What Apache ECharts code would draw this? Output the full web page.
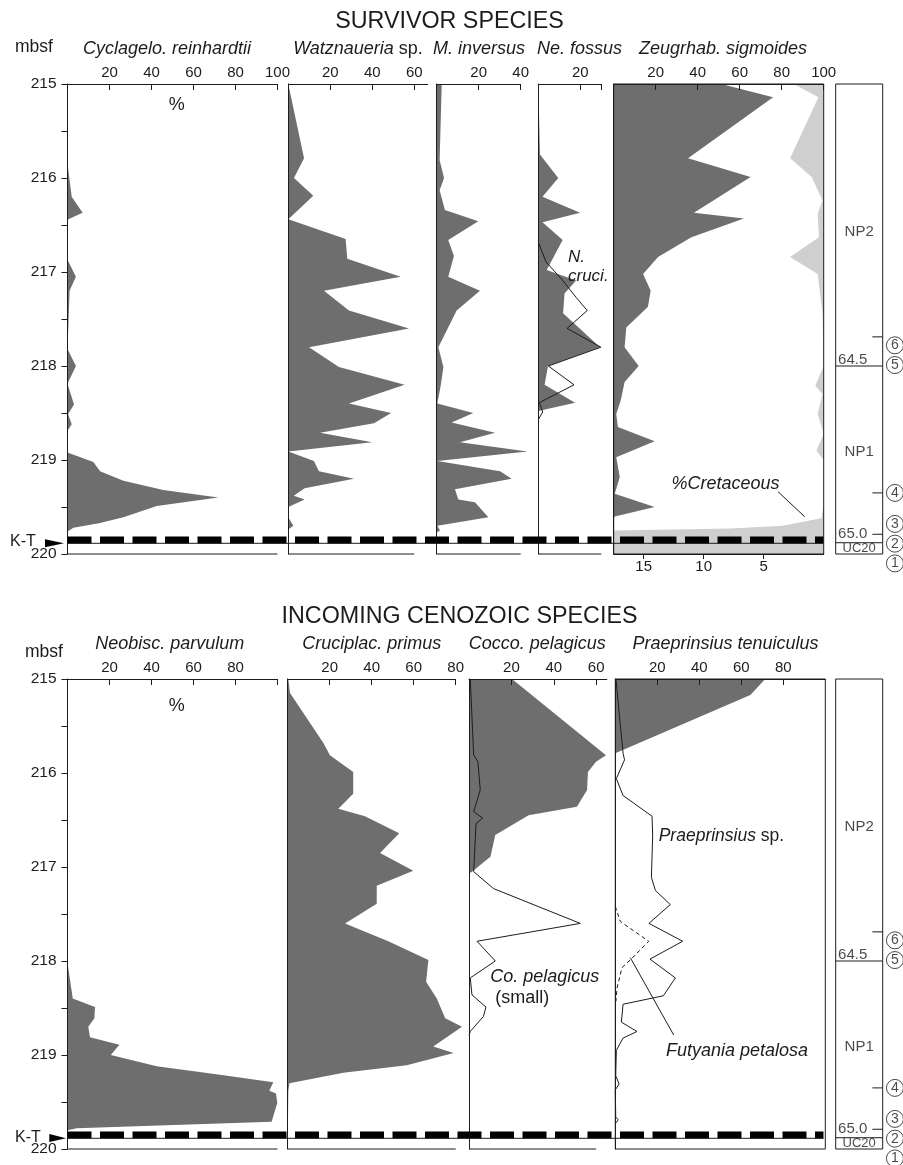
<!DOCTYPE html>
<html><head><meta charset="utf-8">
<script src="https://cdn.jsdelivr.net/npm/echarts@6/dist/echarts.min.js"></script>
<style>html,body{margin:0;padding:0;background:#fff}#c{width:903px;height:1165px}</style>
</head><body><div id="c"></div>
<script>
// ================= DATA =================
// Depth axis (mbsf)
const depthLabels = [215, 216, 217, 218, 219, 220];
// ---- SURVIVOR SPECIES ----
const cycDepth = [215.0, 215.85, 216.2, 216.37, 216.44, 216.47, 216.87, 217.05, 217.2, 217.52, 217.82, 218.0, 218.19, 218.41, 218.51, 218.62, 218.69, 218.92, 219.02, 219.12, 219.22, 219.32, 219.40, 219.49, 219.61, 219.67, 219.72, 219.76, 220.0];
const cycVal   = [0, 0, 2, 7.2, 0.4, 0, 0, 4, 1, 0.5, 0, 4, 0, 3.1, 0.3, 2, 0, 0, 12.3, 15.5, 26.6, 45.6, 71.8, 42.5, 26.6, 15.5, 2.8, 0, 0];
const watDepth = [215.0, 215.79, 216.0, 216.19, 216.44, 216.65, 216.86, 217.05, 217.2, 217.41, 217.6, 217.8, 218.01, 218.2, 218.4, 218.5, 218.61, 218.71, 218.81, 218.91, 219.01, 219.12, 219.2, 219.3, 219.38, 219.42, 219.5, 219.61, 219.7, 219.74, 220.0];
const watVal   = [0, 7.5, 2.7, 11.9, 0, 27.3, 28.1, 53.5, 17, 28.9, 57.5, 9.9, 24.1, 55.4, 28.9, 49, 40.8, 15.1, 40, 0, 12.2, 14.6, 31.3, 7.8, 2.6, 7.8, 0, 0, 2.4, 0, 0];
const minvDepth = [215.0, 215.81, 216.0, 216.13, 216.34, 216.46, 216.66, 216.83, 217.05, 217.2, 217.41, 217.8, 218.01, 218.21, 218.4, 218.5, 218.6, 218.71, 218.81, 218.91, 219.01, 219.12, 219.2, 219.31, 219.42, 219.45, 219.61, 219.7, 219.75, 219.77, 220];
const minvVal   = [2.4, 1.4, 3.5, 1.4, 3.9, 19.8, 5.5, 8.2, 5.5, 20.6, 9.5, 0.8, 3.2, 1.9, 0.3, 17.4, 7.1, 27.8, 11.1, 43.2, 0.3, 30.2, 35.7, 8.7, 10.3, 18.2, 24.6, 0.3, 1.6, 0, 0];
const nefDepth = [215.0, 215.75, 216.0, 216.2, 216.37, 216.47, 216.66, 216.98, 217.09, 217.23, 217.44, 217.8, 218.0, 218.2, 218.39, 218.48, 220];
const nefVal   = [0, 0.8, 9.5, 2, 19.9, 2, 11.6, 4, 18, 12.5, 11.8, 29.4, 4.6, 3, 17.5, 0, 0];
const cruciDepth = [216.68, 216.89, 217.09, 217.27, 217.41, 217.6, 217.8, 218.0, 218.2, 218.39, 218.49, 218.57];
const cruciVal   = [0, 3.6, 11.6, 18, 23.3, 13.7, 29.8, 4.8, 17, 0.5, 2.1, 0];
const zeugDepth = [215.0, 215.14, 215.79, 215.99, 216.37, 216.43, 216.63, 216.84, 217.02, 217.2, 217.37, 217.59, 217.8, 218.0, 218.17, 218.37, 218.51, 218.65, 218.8, 218.97, 219.18, 219.36, 219.5, 219.6, 219.62, 220];
const zeugVal   = [51.2, 75.9, 35.4, 65.2, 38.2, 62, 37, 21.1, 14, 17.6, 16.3, 6, 5.2, 11.9, 5.2, 3.3, 1.2, 2, 19.5, 1.2, 2.9, 0.5, 19.5, 0.5, 0, 0];
// %Cretaceous (lower scale, 0 at right)
const cretDepth = [215.0, 215.14, 215.79, 215.99, 216.24, 216.38, 216.63, 216.84, 217.02, 217.45, 218.0, 218.21, 218.3, 218.51, 218.72, 218.9, 219.0, 219.47, 219.62, 219.70, 219.73, 219.75, 220];
const cretVal   = [2.5, 0.44, 2.8, 1.0, 0.1, 0.5, 0.4, 2.8, 0.5, 0.1, 0, 0.7, 0.1, 0.5, 0, 0.6, 0, 0, 0.2, 3.4, 7.7, 17.5, 17.5];
// ---- INCOMING CENOZOIC SPECIES ----
const neoDepth = [215, 218.02, 218.40, 218.49, 218.61, 218.70, 218.81, 218.89, 219.0, 219.12, 219.21, 219.29, 219.38, 219.41, 219.51, 219.71, 219.78, 219.80, 220];
const neoVal   = [0, 0, 2.5, 13.1, 12.8, 9.9, 10.7, 24.7, 20.6, 42.5, 72.6, 98, 96.1, 99.3, 99.9, 97.2, 4.4, 0, 0];
const crpDepth = [215.0, 215.15, 215.68, 215.81, 215.99, 216.22, 216.38, 216.46, 216.64, 216.85, 217.04, 217.2, 217.39, 217.6, 217.79, 217.99, 218.22, 218.40, 218.61, 218.70, 218.91, 218.98, 219.11, 219.19, 219.30, 219.38, 220];
const crpVal   = [0.3, 1.1, 17, 20.1, 31.2, 31.2, 24.1, 36.8, 53.1, 44, 59.8, 42.4, 42.4, 27.3, 47.9, 67, 65.9, 71, 75, 83, 69.3, 79, 56.7, 26.5, 0.8, 0.3, 0];
const cocDepth = [215.0, 215.81, 215.88, 215.99, 216.18, 216.36, 216.45, 216.66, 216.89, 217.05, 217.07, 220];
const cocVal   = [20.3, 64.6, 59.9, 56.1, 55.7, 50.9, 28.1, 12.4, 10.1, 1.4, 0, 0];
const cpsDepth = [215.0, 215.81, 215.88, 216.18, 216.41, 216.48, 216.54, 217.05, 217.23, 217.6, 217.79, 218.0, 218.18, 218.36, 218.49, 218.59, 218.75, 218.79];
const cpsVal   = [0.6, 2.2, 4.2, 5.3, 2.2, 6.4, 3.3, 2.2, 11.6, 52.5, 3.8, 12.4, 0.6, 1.4, 8.0, 6.8, 0.6, 0];
const ptenDepth = [215.0, 215.17, 215.79];
const ptenVal   = [71.4, 64.3, 0];
const prspDepth = [215.0, 215.79, 215.86, 216.06, 216.24, 216.46, 216.66, 217.11, 217.25, 217.4, 217.6, 217.79, 217.98, 218.18, 218.37, 218.46, 218.65, 218.75, 218.82, 218.95, 219.22, 219.31, 219.37, 219.66, 219.69, 219.73];
const prspVal   = [0.3, 3.7, 4.4, 0.5, 3.7, 17.5, 17.8, 17.2, 19.1, 26.2, 16, 32.1, 16.5, 28.6, 22.9, 3.7, 2.9, 10.3, 3.7, 0.5, 0.2, 1.8, 0, 0.2, 1.4, 0];
const futDepth = [217.42, 217.58, 217.79, 217.97, 218.07, 218.29, 218.43];
const futVal   = [0, 2.4, 15.9, 8, 3.2, 0.8, 0.3];
// ---- Zonation / events ----
const zoneBounds = [218.0, 219.88];
const zoneNames = ['NP2', 'NP1', 'UC20'];
const zoneNameDepth = [216.57, 218.91, 219.94];
const ageLabels = ['64.5', '65.0'];
const ageDepth = [217.93, 219.79];
const eventTickDepth = [217.69, 219.35, 219.79];
const eventNums = ['6', '5', '4', '3', '2', '1'];
const eventDepth = [217.78, 217.99, 219.35, 219.68, 219.89, 220.10];
const ktDepth = 219.85, ktBaseDepth = 219.886;

// ================= STYLE / LAYOUT =================
const FONT = '"Liberation Sans", Arial, Helvetica, sans-serif';
const INK = '#1c1c1c', DARK = '#6e6e6e', LIGHT = '#cfcfcf';
const H = 470, TOP1 = 84, TOP2 = 679;
const panels = [
  {top: TOP1, left: 67.5, width: 210, max: 100, ticks: [20,40,60,80,100], labels: [20,40,60,80,100], base: 100, yLabels: true},
  {top: TOP1, left: 288.3, width: 139.4, max: 66.4, ticks: [20,40,60], labels: [20,40,60], base: 60},
  {top: TOP1, left: 436.7, width: 84, max: 40, ticks: [20,40], labels: [20,40], base: 40},
  {top: TOP1, left: 538.3, width: 63, max: 30, ticks: [20,30], labels: [20], base: 30},
  {top: TOP1, left: 613.7, width: 210, max: 100, ticks: [20,40,60,80,100], labels: [20,40,60,80,100], box: true, cret: true},
  {top: TOP2, left: 67.5, width: 210, max: 100, ticks: [20,40,60,80,100], labels: [20,40,60,80], base: 100, yLabels: true},
  {top: TOP2, left: 287.7, width: 168, max: 80, ticks: [20,40,60,80], labels: [20,40,60,80], base: 80},
  {top: TOP2, left: 469, width: 137.8, max: 65, ticks: [20,40,60], labels: [20,40,60], base: 60},
  {top: TOP2, left: 615.3, width: 210, max: 100, ticks: [20,40,60,80], labels: [20,40,60,80], box: true}
];
const areas = [
  {p: 0, d: cycDepth, v: cycVal, c: DARK},
  {p: 1, d: watDepth, v: watVal, c: DARK},
  {p: 2, d: minvDepth, v: minvVal, c: DARK},
  {p: 3, d: nefDepth, v: nefVal, c: DARK},
  {p: 4, d: cretDepth, v: cretVal, c: LIGHT, cret: true},
  {p: 4, d: zeugDepth, v: zeugVal, c: DARK},
  {p: 5, d: neoDepth, v: neoVal, c: DARK},
  {p: 6, d: crpDepth, v: crpVal, c: DARK},
  {p: 7, d: cocDepth, v: cocVal, c: DARK},
  {p: 8, d: ptenDepth, v: ptenVal, c: DARK}
];
const curves = [
  {p: 3, d: cruciDepth, v: cruciVal},
  {p: 7, d: cpsDepth, v: cpsVal},
  {p: 8, d: prspDepth, v: prspVal},
  {p: 8, d: futDepth, v: futVal, dash: true}
];

// ================= BUILD =================
const grids = [], xAxes = [], yAxes = [], series = [];
const lineStyle = {color: INK, width: 1};
function hiddenAxes(gi, xmax) {
  const xi = xAxes.length;
  xAxes.push({gridIndex: gi, type: 'value', min: 0, max: xmax, show: false});
  const yi = yAxes.length;
  yAxes.push({gridIndex: gi, type: 'value', min: 215, max: 220, inverse: true, show: false});
  return {xi, yi};
}
const pax = panels.map(p => {
  const gi = grids.length;
  grids.push({left: p.left, top: p.top, width: p.width, height: H, show: !!p.box,
    borderColor: INK, borderWidth: 1, backgroundColor: 'transparent', z: p.box ? 10 : 0});
  const xi = xAxes.length;
  xAxes.push({gridIndex: gi, type: 'value', position: 'top', min: 0, max: p.max, z: 5,
    axisLine: {show: true, onZero: false, lineStyle},
    axisTick: {show: true, inside: true, length: 6, customValues: p.ticks, lineStyle},
    axisLabel: {show: true, customValues: p.labels, margin: 4, fontSize: 15, fontFamily: FONT, color: INK},
    splitLine: {show: false}});
  let cx = null;
  if (p.cret) {
    cx = xAxes.length;
    xAxes.push({gridIndex: gi, type: 'value', position: 'bottom', min: 0, max: 17.5, inverse: true, z: 5,
      axisLine: {show: true, onZero: false, lineStyle},
      axisTick: {show: true, inside: false, length: 5, customValues: [5,10,15], lineStyle},
      axisLabel: {show: true, customValues: [5,10,15], margin: 5, fontSize: 15, fontFamily: FONT, color: INK},
      splitLine: {show: false}});
  }
  const yi = yAxes.length;
  yAxes.push({gridIndex: gi, type: 'value', min: 215, max: 220, interval: 0.5, inverse: true, z: 5,
    axisLine: {show: true, onZero: false, lineStyle},
    axisTick: {show: !!p.yLabels, length: 6, lineStyle},
    axisLabel: {show: !!p.yLabels, margin: 11, fontSize: 15.5, fontFamily: FONT, color: INK,
      formatter: v => depthLabels.indexOf(Math.round(v * 100) / 100) >= 0 ? String(Math.round(v)) : ''},
    splitLine: {show: false}});
  if (p.base) {
    series.push({type: 'line', xAxisIndex: xi, yAxisIndex: yi, data: [[0, 220], [p.base, 220]],
      symbol: 'none', silent: true, clip: false, lineStyle, z: 4});
  }
  return {xi, yi, cx};
});
areas.forEach(a => {
  const ax = pax[a.p];
  series.push({
    type: 'custom', xAxisIndex: a.cret ? ax.cx : ax.xi, yAxisIndex: ax.yi, silent: true, clip: false, z: a.cret ? 1 : 2,
    data: a.d.map((d, i) => [a.v[i], d]), encode: {x: 0, y: 1},
    renderItem: function (params, api) {
      if (params.dataIndex !== 0) return null;
      const pts = [api.coord([0, a.d[0]])];
      for (let i = 0; i < a.d.length; i++) pts.push(api.coord([a.v[i], a.d[i]]));
      pts.push(api.coord([0, a.d[a.d.length - 1]]));
      return {type: 'polygon', shape: {points: pts}, style: {fill: a.c}};
    }
  });
});
curves.forEach(c => {
  const ax = pax[c.p];
  series.push({type: 'line', xAxisIndex: ax.xi, yAxisIndex: ax.yi, data: c.d.map((d, i) => [c.v[i], d]),
    symbol: 'none', silent: true, clip: false, z: 3,
    lineStyle: {color: INK, width: 1, type: c.dash ? [4, 3] : 'solid'}});
});
// K-T band overlays
[TOP1, TOP2].forEach(top => {
  const gi = grids.length;
  grids.push({left: 67.5, top, width: 756, height: H, show: false});
  const {xi, yi} = hiddenAxes(gi, 1);
  series.push({type: 'line', xAxisIndex: xi, yAxisIndex: yi, data: [[0, ktDepth], [1, ktDepth]], symbol: 'none',
    silent: true, z: 8, lineStyle: {color: '#000', width: 7, type: [24, 8.5], cap: 'butt'}});
  series.push({type: 'line', xAxisIndex: xi, yAxisIndex: yi, data: [[0, ktBaseDepth], [1, ktBaseDepth]], symbol: 'none',
    silent: true, z: 8, lineStyle: {color: INK, width: 1}});
});
// Zone columns
[TOP1, TOP2].forEach(top => {
  const gi = grids.length;
  grids.push({left: 835.7, top, width: 47, height: H, show: true, borderColor: INK, borderWidth: 1, backgroundColor: 'transparent', z: 10});
  const {xi, yi} = hiddenAxes(gi, 1);
  zoneBounds.forEach(b => series.push({type: 'line', xAxisIndex: xi, yAxisIndex: yi, data: [[0, b], [1, b]],
    symbol: 'none', silent: true, lineStyle}));
  eventTickDepth.forEach(t => series.push({type: 'line', xAxisIndex: xi, yAxisIndex: yi, data: [[0.78, t], [1, t]],
    symbol: 'none', silent: true, lineStyle}));
  series.push({type: 'scatter', xAxisIndex: xi, yAxisIndex: yi, symbolSize: 0, silent: true, clip: false,
    data: zoneNames.map((n, i) => [0.5, zoneNameDepth[i], n]),
    label: {show: true, position: 'inside', color: INK, fontFamily: FONT, fontSize: 15,
      formatter: p => p.value[2] === 'UC20' ? '{s|UC20}' : p.value[2],
      rich: {s: {fontSize: 13, fontFamily: FONT, color: INK}}}});
  series.push({type: 'scatter', xAxisIndex: xi, yAxisIndex: yi, symbolSize: 0, silent: true, clip: false,
    data: ageLabels.map((n, i) => [0.05, ageDepth[i], n]),
    label: {show: true, position: 'right', distance: 0, formatter: p => p.value[2], color: INK, fontFamily: FONT, fontSize: 15}});
  series.push({type: 'scatter', xAxisIndex: xi, yAxisIndex: yi, symbol: 'circle', symbolSize: 17, silent: true, clip: false,
    data: eventNums.map((n, i) => [1.26, eventDepth[i], n]),
    itemStyle: {color: '#fff', borderColor: INK, borderWidth: 1},
    label: {show: true, position: 'inside', formatter: p => p.value[2], color: INK, fontFamily: FONT, fontSize: 14}});
});

// ================= ANNOTATIONS =================
function txt(x, y, text, size, align, extra) {
  return {type: 'text', x, y, silent: true, z: 100,
    style: Object.assign({text, fill: INK, fontSize: size, fontFamily: FONT, fontStyle: 'normal',
      textAlign: align || 'left', align: align || 'left', textVerticalAlign: 'middle', verticalAlign: 'middle'}, extra || {})};
}
const it = {fontStyle: 'italic'};
const richIt = {rich: {i: {fontStyle: 'italic', fontSize: 18, fontFamily: FONT, fill: INK}}};
const graphics = [
  txt(449.5, 22, 'SURVIVOR SPECIES', 23.3, 'center'),
  txt(459.5, 617, 'INCOMING CENOZOIC SPECIES', 23.3, 'center'),
  txt(15, 47, 'mbsf', 17.5), txt(25, 652, 'mbsf', 17.5),
  txt(167, 49, 'Cyclagelo. reinhardtii', 18, 'center', it),
  txt(358, 49, '{i|Watznaueria} sp.', 18, 'center', richIt),
  txt(479, 49, 'M. inversus', 18, 'center', it),
  txt(579.5, 49, 'Ne. fossus', 18, 'center', it),
  txt(723, 49, 'Zeugrhab. sigmoides', 18, 'center', it),
  txt(169.7, 644, 'Neobisc. parvulum', 18, 'center', it),
  txt(371.7, 644, 'Cruciplac. primus', 18, 'center', it),
  txt(537.2, 644, 'Cocco. pelagicus', 18, 'center', it),
  txt(725.5, 644, 'Praeprinsius tenuiculus', 18, 'center', it),
  txt(176.7, 105, '%', 18, 'center'), txt(176.7, 706, '%', 18, 'center'),
  txt(568, 257, 'N.', 17, 'left', it), txt(568, 276, 'cruci.', 17, 'left', it),
  txt(671.5, 484, '%Cretaceous', 18, 'left', it),
  txt(658.7, 836, '{i|Praeprinsius} sp.', 17.5, 'left', {rich: {i: {fontStyle: 'italic', fontSize: 17.5, fontFamily: FONT, fill: INK}}}),
  txt(490.3, 977, 'Co. pelagicus', 18, 'left', it),
  txt(495.3, 998, '(small)', 18, 'left'),
  txt(666, 1051, 'Futyania petalosa', 18, 'left', it),
  txt(10, 542, 'K-T', 16), txt(15, 1137.5, 'K-T', 16),
  {type: 'polygon', silent: true, z: 100, shape: {points: [[45, 539.3], [64, 543.3], [45, 547.3]]}, style: {fill: '#000'}},
  {type: 'polygon', silent: true, z: 100, shape: {points: [[49.3, 1134], [66, 1138.3], [49.3, 1142]]}, style: {fill: '#000'}},
  {type: 'line', silent: true, z: 100, shape: {x1: 778, y1: 491.7, x2: 804.7, y2: 516.7}, style: {stroke: INK, lineWidth: 1}},
  {type: 'line', silent: true, z: 100, shape: {x1: 630.3, y1: 957.7, x2: 673.7, y2: 1035}, style: {stroke: INK, lineWidth: 1}}
];

const chart = echarts.init(document.getElementById('c'), null, {renderer: 'canvas'});
chart.setOption({
  animation: false,
  backgroundColor: '#fff',
  textStyle: {fontFamily: FONT},
  grid: grids, xAxis: xAxes, yAxis: yAxes, series,
  graphic: {elements: graphics}
});
</script></body></html>
